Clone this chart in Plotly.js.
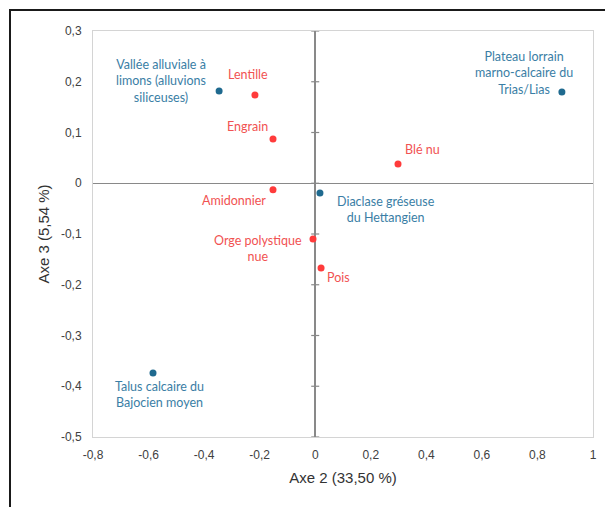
<!DOCTYPE html>
<html>
<head>
<meta charset="utf-8">
<script src="https://cdn.plot.ly/plotly-3.0.1.min.js"></script>
<style>
html,body{margin:0;padding:0;background:#fff;}
#wrap{position:relative;width:605px;height:507px;overflow:hidden;}
#chart{width:605px;height:507px;}
#frame{position:absolute;left:9px;top:9px;width:800px;height:800px;border-left:2px solid #1a1a1a;border-top:2px solid #1a1a1a;pointer-events:none;}
</style>
</head>
<body>
<div id="wrap"><div id="chart"></div><div id="frame"></div></div>
<script>
// Sites (blue)
const siteNames = ["Vallée alluviale à<br>limons (alluvions<br>siliceuses)", "Plateau lorrain<br>marno-calcaire du<br>Trias/Lias", "Diaclase gréseuse<br>du Hettangien", "Talus calcaire du<br>Bajocien moyen"];
const siteX = [-0.346, 0.888, 0.017, -0.584];
const siteY = [0.182, 0.180, -0.019, -0.374];

// Crops (red)
const cropNames = ["Lentille", "Engrain", "Blé nu", "Amidonnier", "Orge polystique<br>nue", "Pois"];
const cropX = [-0.217, -0.152, 0.298, -0.152, -0.008, 0.021];
const cropY = [0.174, 0.087, 0.038, -0.013, -0.110, -0.167];

// Axis ticks
const xTickVals = [-0.8, -0.6, -0.4, -0.2, 0, 0.2, 0.4, 0.6, 0.8, 1];
const xTickText = ["-0,8", "-0,6", "-0,4", "-0,2", "0", "0,2", "0,4", "0,6", "0,8", "1"];
const yTickVals = [-0.5, -0.4, -0.3, -0.2, -0.1, 0, 0.1, 0.2, 0.3];
const yTickText = ["-0,5", "-0,4", "-0,3", "-0,2", "-0,1", "0", "0,1", "0,2", "0,3"];

// label offsets in pixels (layout only)
const siteOffsets = [[-11, 10, "right"], [-38, 19, "center"], [66, -17, "center"], [6, -21, "center"]];
const cropOffsets = [[-7, 20, "center"], [-26, 13, "center"], [5, 14, "left"], [-5, -11, "right"], [-55, -9, "center"], [17, -9, "center"]];

const blueM = "#1f6a8f", blueT = "#3a7ea5";
const redM = "#ff3b3b", redT = "#f15252";
const labelFont = "Lato, 'Open Sans', sans-serif";
const axisFont = "'Liberation Sans', Arial, sans-serif";

const traces = [
  {x: siteX, y: siteY, type: "scatter", mode: "markers", marker: {color: blueM, size: 7}, hoverinfo: "skip"},
  {x: cropX, y: cropY, type: "scatter", mode: "markers", marker: {color: redM, size: 7}, hoverinfo: "skip"}
];

const annotations = [];
function addLabels(names, xs, ys, offs, color) {
  names.forEach((n, i) => {
    annotations.push({
      x: xs[i], y: ys[i], xref: "x", yref: "y", text: n, showarrow: false,
      xanchor: offs[i][2], yanchor: "middle", align: "center",
      xshift: offs[i][0], yshift: offs[i][1],
      font: {family: labelFont, size: 12.5, color: color}
    });
  });
}
addLabels(siteNames, siteX, siteY, siteOffsets, blueT);
addLabels(cropNames, cropX, cropY, cropOffsets, redT);

const shapes = yTickVals.map(v => ({
  type: "line", xref: "x", yref: "y", xsizemode: "pixel", xanchor: 0,
  x0: -4, x1: 4, y0: v, y1: v, line: {color: "#898989", width: 1.2}, layer: "above"
}));

const layout = {
  width: 605, height: 507,
  margin: {l: 93, r: 12, t: 31, b: 70},
  paper_bgcolor: "#fff", plot_bgcolor: "#fff",
  showlegend: false,
  xaxis: {
    range: [-0.8, 1], tickvals: xTickVals, ticktext: xTickText,
    showgrid: false, zeroline: true, zerolinecolor: "#898989", zerolinewidth: 1.5,
    showline: true, mirror: true, linecolor: "#d4d4d4", linewidth: 1,
    ticks: "", ticklabelstandoff: 7,
    tickfont: {family: axisFont, size: 12, color: "#404040"},
    title: {text: "Axe 2 (33,50 %)", font: {family: axisFont, size: 15, color: "#333"}, standoff: 11},
    fixedrange: true
  },
  yaxis: {
    range: [-0.5, 0.3], tickvals: yTickVals, ticktext: yTickText,
    showgrid: false, zeroline: true, zerolinecolor: "#898989", zerolinewidth: 1.5,
    showline: true, mirror: true, linecolor: "#d4d4d4", linewidth: 1,
    ticks: "", ticklabelstandoff: 8,
    tickfont: {family: axisFont, size: 12, color: "#404040"},
    title: {text: "Axe 3 (5,54 %)", font: {family: axisFont, size: 15, color: "#333"}, standoff: 7},
    fixedrange: true
  },
  annotations: annotations,
  shapes: shapes
};

Plotly.newPlot("chart", traces, layout, {displayModeBar: false, staticPlot: true});
</script>
</body>
</html>
